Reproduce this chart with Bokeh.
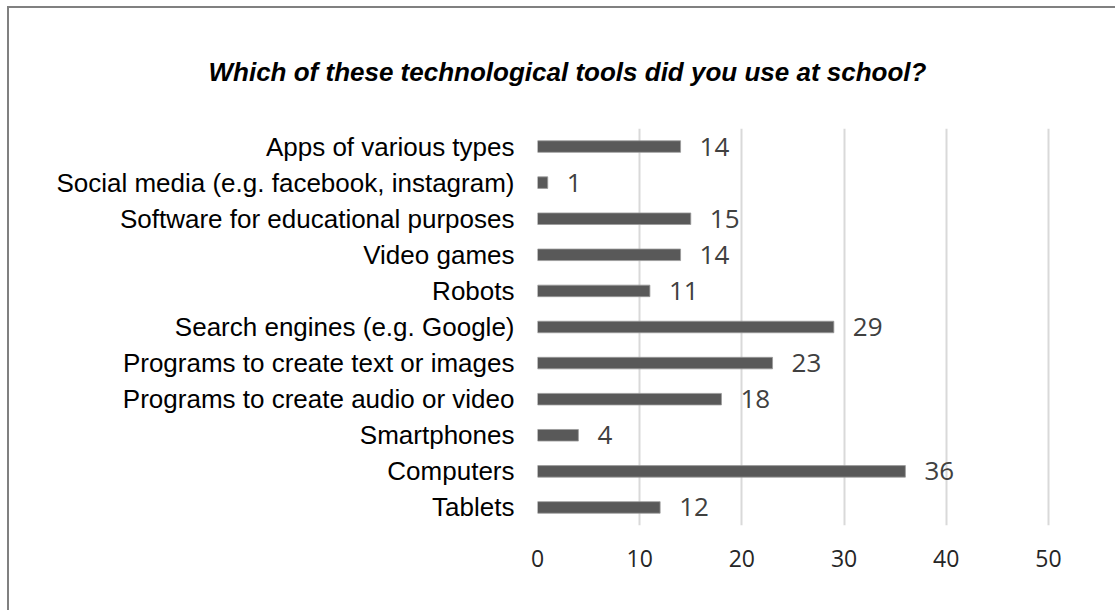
from bokeh.plotting import figure
from bokeh.models import ColumnDataSource, FactorRange, Range1d
from bokeh.core.properties import value
from bokeh.embed import file_html
from bokeh.resources import INLINE

categories = [
    "Apps of various types",
    "Social media (e.g. facebook, instagram)",
    "Software for educational purposes",
    "Video games",
    "Robots",
    "Search engines (e.g. Google)",
    "Programs to create text or images",
    "Programs to create audio or video",
    "Smartphones",
    "Computers",
    "Tablets",
]
counts = [14, 1, 15, 14, 11, 29, 23, 18, 4, 36, 12]
x_ticks = [0, 10, 20, 30, 40, 50]
title_text = "Which of these technological tools did you use at school?"

source = ColumnDataSource(data=dict(
    cat=categories,
    val=counts,
    lbl=[str(v) for v in counts],
))

p = figure(
    width=1108, height=604,
    y_range=FactorRange(factors=list(reversed(categories))),
    x_range=Range1d(0, 50.2),
    output_backend="svg", toolbar_location=None,
    min_border_left=528, min_border_top=120,
    min_border_right=67, min_border_bottom=87,
)
p.outline_line_color = None
p.background_fill_color = "white"
p.border_fill_color = "white"
p.styles = {
    "margin-left": "7px", "margin-top": "6px",
    "border-left": "2px solid #808080", "border-top": "2px solid #808080",
}

p.title.text = title_text
p.title.align = "left"
p.title.offset = -329
p.title.standoff = 84
p.title.text_font = "Liberation Sans"
p.title.text_font_style = "bold italic"
p.title.text_font_size = "26px"
p.title.text_color = "#000000"

p.hbar(y="cat", right="val", left=0, height=0.32, source=source,
       fill_color="#595959", line_color="#9a9a9a", line_width=0.8)

p.text(x="val", y="cat", text="lbl", source=source,
       x_offset=19, text_align="left", text_baseline="middle",
       text_font=value("Open Sans"), text_font_size="26px", text_color="#404040")

# axes
p.xaxis.ticker = x_ticks
p.xaxis.axis_line_color = None
p.xaxis.major_tick_line_color = None
p.xaxis.minor_tick_line_color = None
p.xaxis.major_tick_in = 0
p.xaxis.major_tick_out = 0
p.xaxis.major_label_standoff = 24
p.xaxis.major_label_text_font = "Open Sans"
p.xaxis.major_label_text_font_size = "23px"
p.xaxis.major_label_text_color = "#262626"

p.yaxis.axis_line_color = None
p.yaxis.major_tick_line_color = None
p.yaxis.minor_tick_line_color = None
p.yaxis.major_tick_in = 0
p.yaxis.major_tick_out = 0
p.yaxis.major_label_standoff = 23
p.yaxis.major_label_text_font = "Liberation Sans"
p.yaxis.major_label_text_font_size = "26px"
p.yaxis.major_label_text_color = "#000000"

p.ygrid.grid_line_color = None
p.xgrid.grid_line_color = "#d9d9d9"
p.xgrid.grid_line_width = 2

open("out.html", "w").write(file_html(p, INLINE))
